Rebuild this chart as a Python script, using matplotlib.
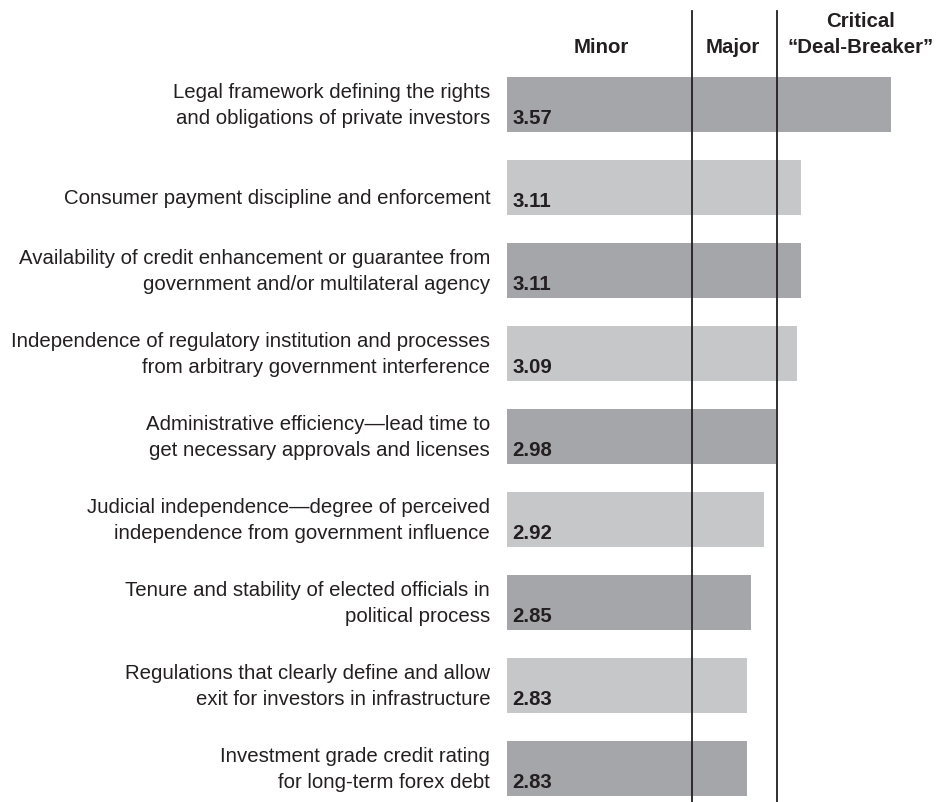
import matplotlib.pyplot as plt
import matplotlib.transforms as mtransforms

plt.rcParams['font.family'] = ['Liberation Sans', 'DejaVu Sans']

labels = [
    'Legal framework defining the rights\nand obligations of private investors',
    'Consumer payment discipline and enforcement',
    'Availability of credit enhancement or guarantee from\ngovernment and/or multilateral agency',
    'Independence of regulatory institution and processes\nfrom arbitrary government interference',
    'Administrative efficiency\u2014lead time to\nget necessary approvals and licenses',
    'Judicial independence\u2014degree of perceived\nindependence from government influence',
    'Tenure and stability of elected officials in\npolitical process',
    'Regulations that clearly define and allow\nexit for investors in infrastructure',
    'Investment grade credit rating\nfor long-term forex debt',
]
scores = [3.57, 3.11, 3.11, 3.09, 2.98, 2.92, 2.85, 2.83, 2.83]
headers = ['Minor', 'Major', 'Critical\n\u201cDeal-Breaker\u201d']
boundaries = [2.55, 2.985]

base = 1.596
dark = '#a5a6a9'
light = '#c6c7c9'
txt = '#231f20'
fs = 14.7

fig = plt.figure(figsize=(9.38, 8.03), dpi=100)
ax = fig.add_axes([507 / 938, 0, 431 / 938, 1])
ax.set_xlim(base, base + 431 / 194.4)
ax.set_ylim(8.404, -1.271)
ax.axis('off')

ypos = list(range(len(scores)))
colors = [dark if i % 2 == 0 else light for i in ypos]
ax.barh(ypos, [s - base for s in scores], left=base, height=0.67,
        color=colors, zorder=1)

for x in boundaries:
    ax.axvline(x, ymin=0, ymax=1 - 12 / 803, color=txt, lw=1.3, zorder=2)

lab_tr = mtransforms.blended_transform_factory(ax.transAxes, ax.transData)
for y, lab, s in zip(ypos, labels, scores):
    lines = lab.split('\n')
    # baseline of the last line sits with the value label
    last = y + 0.229 if len(lines) > 1 else y + 0.187
    for k, line in enumerate(lines):
        ax.text(-0.039, last - (len(lines) - 1 - k) * 0.325, line,
                transform=lab_tr, ha='right', va='baseline',
                fontsize=fs, color=txt, clip_on=False)
    ax.text(0.012, y + 0.229, f'{s:.2f}', transform=lab_tr, ha='left',
            va='baseline', fontsize=fs, fontweight='bold', color=txt)

for xf, h in zip([0.218, 0.524, 0.821], headers):
    lines = h.split('\n')
    for k, line in enumerate(lines):
        yb = 1 - (53 - (len(lines) - 1 - k) * 26) / 803
        ax.text(xf, yb, line, transform=ax.transAxes, ha='center',
                va='baseline', fontsize=fs, fontweight='bold', color=txt,
                clip_on=False)

fig.savefig('out.png', dpi=100)
